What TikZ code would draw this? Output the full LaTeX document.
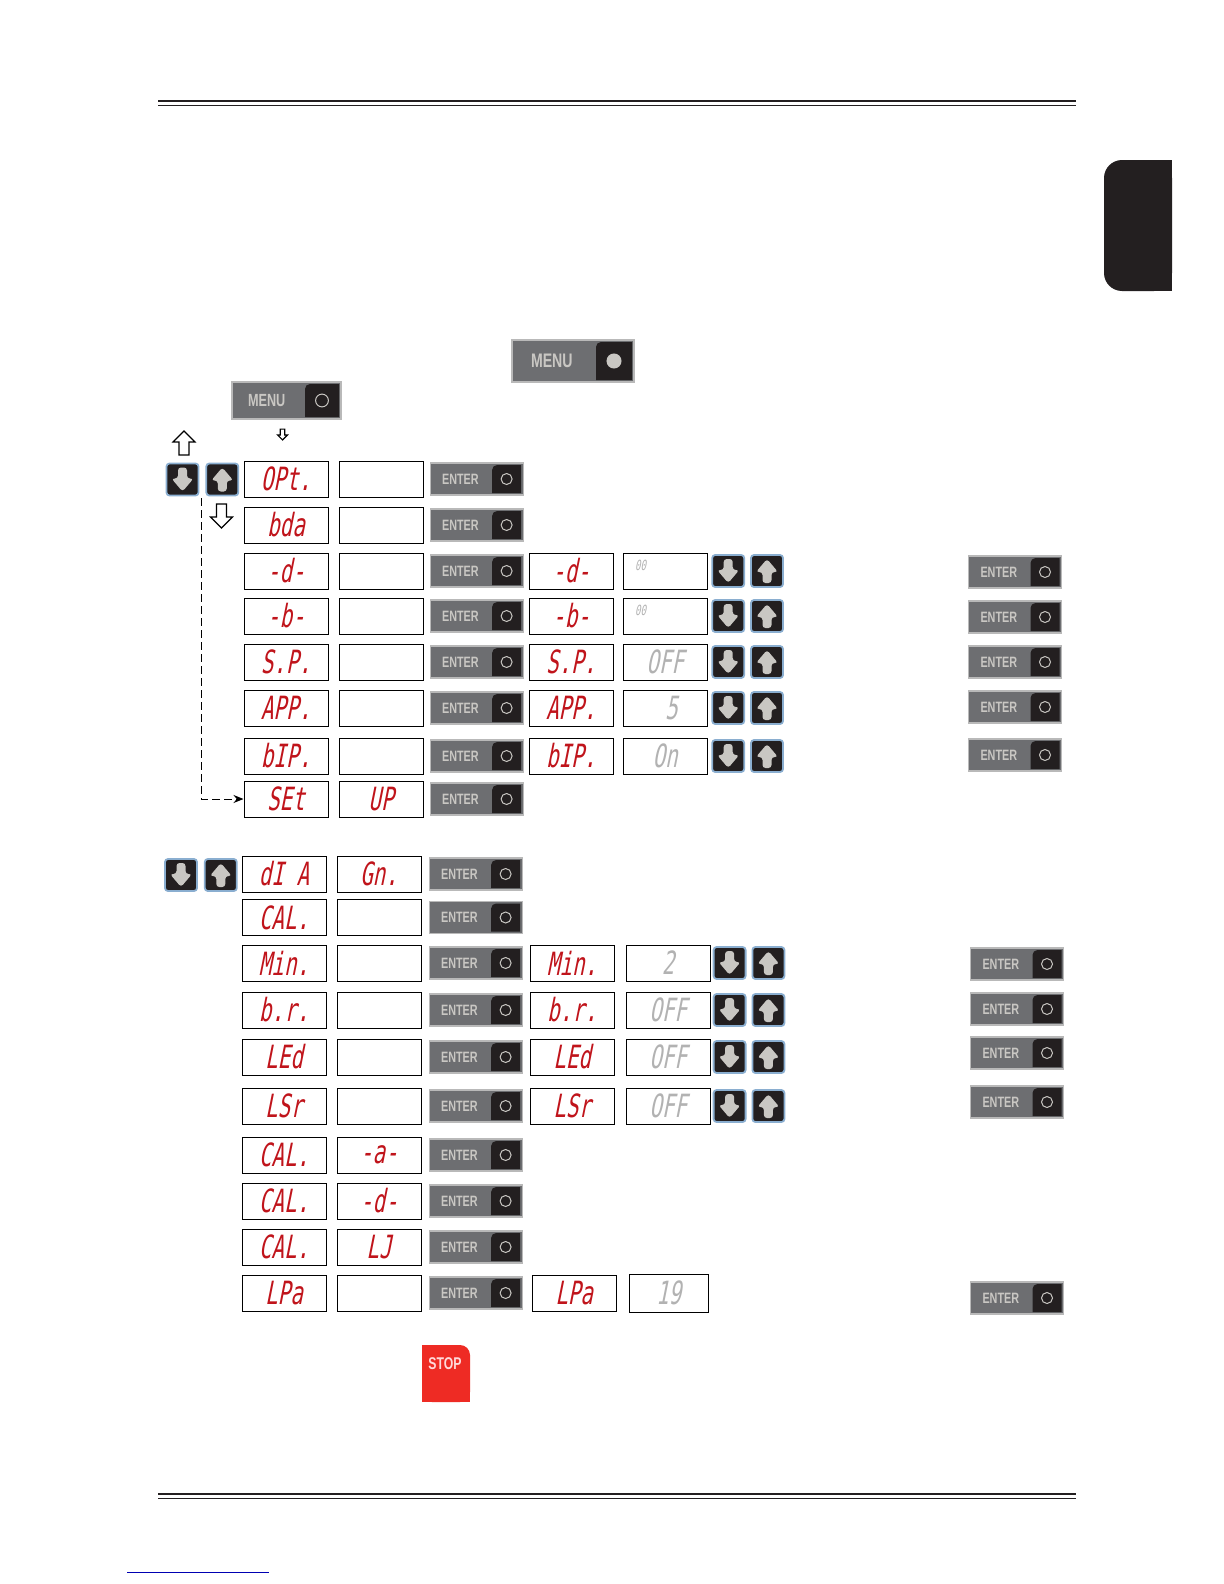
\documentclass[tikz,border=0pt]{standalone}
\usepackage{fontspec}
\usepackage{xcolor}
\usepackage{tikz}
\usetikzlibrary{positioning,arrows.meta}

\newfontfamily\segfont[FakeStretch=0.65,FakeSlant=0.2]{DejaVu Sans Mono}
\newfontfamily\btnfont[FakeStretch=0.72]{Liberation Sans}

\definecolor{segred}{HTML}{C0141B}
\definecolor{btngray}{HTML}{6D6E71}
\definecolor{btndark}{HTML}{231F20}
\definecolor{btntext}{HTML}{C9C7C3}
\definecolor{keyblue}{HTML}{8AAED0}
\definecolor{stopred}{HTML}{EE2B24}

\begin{document}
\begin{tikzpicture}[
    x=0.5pt, y=-0.5pt,
    disp/.style={draw, line width=0.5pt, minimum width=42pt, minimum height=18pt, inner sep=0pt,
        font=\segfont\fontsize{16}{16}\selectfont, text=segred},
    val/.style={disp, text=gray!60},
    tinyval/.style={inner sep=0pt, font=\segfont\fontsize{7}{7}\selectfont, text=gray!60},
    knobdot/.style={},
    knob/.style 2 args={path picture={
        \fill[btndark] ([xshift=-1pt,yshift=1pt]path picture bounding box.south east)
            -- ([xshift=-#1,yshift=1pt]path picture bounding box.south east)
            [rounded corners=2.5pt] -- ([xshift=-#1,yshift=-1pt]path picture bounding box.north east)
            [sharp corners] -- ([xshift=-1pt,yshift=-1pt]path picture bounding box.north east) -- cycle;
        \draw[btntext, line width=0.5pt, knobdot] ([xshift=-#1/2-0.5pt]path picture bounding box.east) circle[radius=#2];}},
    enter/.style={draw=gray!55, line width=0.6pt, fill=btngray, minimum height=16pt, inner xsep=6pt, inner ysep=0pt,
        text width=34.5pt, align=left, font=\btnfont\bfseries\fontsize{7.5}{7.5}\selectfont, text=btntext, knob={15.5pt}{2.75pt}},
    menubtn/.style={draw=gray!55, line width=0.6pt, fill=btngray, inner ysep=0pt, align=left, text=btntext},
    key/.style={draw=keyblue, line width=0.9pt, fill=btndark, minimum size=16pt, inner sep=0pt, rounded corners=1.5pt},
    dnkey/.style={key, path picture={\fill[btntext, shift={(path picture bounding box.center)}]
        (-4.5,-12) -- (4.5,-12) -- (4.5,-1) -- (11,-1) -- (0,12) -- (-11,-1) -- (-4.5,-1) -- cycle;}},
    upkey/.style={key, path picture={\fill[btntext, shift={(path picture bounding box.center)}]
        (-4.5,12) -- (4.5,12) -- (4.5,1) -- (11,1) -- (0,-12) -- (-11,1) -- (-4.5,1) -- cycle;}},
    hollowarrow/.style={draw, fill=white, line width=0.6pt},
    rule/.style={line width=0.8pt, btndark}
]
\fill[white] (0,0) rectangle (1224,1584);
\useasboundingbox (0,0) rectangle (1224,1584);

% page frame
\draw[rule] (158,101) -- (1076,101);
\draw[rule] (158,105.5) -- (1076,105.5);
\draw[rule] (158,1494) -- (1076,1494);
\draw[rule] (158,1498.5) -- (1076,1498.5);
\fill[btndark, rounded corners=9pt] (1104,160) rectangle (1172,291);
\fill[btndark] (1140,160) rectangle (1172,291);
\draw[blue!70!black, line width=0.4pt] (127,1572) -- (269,1572);

% menu keys
\node[menubtn, minimum height=21pt, inner xsep=9.5pt, text width=42pt, font=\btnfont\bfseries\fontsize{9.8}{9.8}\selectfont,
    knob={19pt}{3.5pt}, knobdot/.style={fill=btntext}] (menu1) at (573,361) {MENU};
\node[menubtn, minimum height=18.5pt, inner xsep=8pt, text width=38.5pt, font=\btnfont\bfseries\fontsize{8.8}{8.8}\selectfont,
    knob={18pt}{3.2pt}] (menu2) at (286.5,400.5) {MENU};
\draw[hollowarrow, shift={(282.5,434.5)}, scale=0.45] (0,12) -- (11,1) -- (5,1) -- (5,-12) -- (-5,-12) -- (-5,1) -- (-11,1) -- cycle;
\draw[hollowarrow, shift={(184,443)}] (0,-12) -- (11,-1) -- (5,-1) -- (5,12) -- (-5,12) -- (-5,-1) -- (-11,-1) -- cycle;

% first menu
\node[dnkey] (top-dn) at (182.5,479.5) {};
\node[upkey, right=3pt of top-dn] (top-up) {};
\draw[hollowarrow, shift={(221.5,516)}] (0,12) -- (11,1) -- (5,1) -- (5,-12) -- (-5,-12) -- (-5,1) -- (-11,1) -- cycle;

\foreach \n/\y/\a/\b in {opt/479/OPt./{}, bda/525/bda/{}, d/571/-d-/{}, b/616/-b-/{},
        sp/662/S.P./{}, app/708/APP./{}, bip/756/bIP./{}, set/799/SEt/UP}{
    \node[disp] (\n) at (286,\y) {\a};
    \node[disp, right=5pt of \n] (\n-v) {\b};
    \node[enter, right=3pt of \n-v] (\n-e) {ENTER};
}
\foreach \n/\a/\v/\ey in {d/-d-/{}/572, b/-b-/{}/617, sp/S.P./OFF/662, app/APP./\hphantom{0}5/707, bip/bIP./On/755}{
    \node[disp, right=2.5pt of \n-e] (\n-s) {\a};
    \node[val, right=4.5pt of \n-s] (\n-sv) {\v};
    \node[dnkey, right=1.8pt of \n-sv] (\n-dn) {};
    \node[upkey, right=2.5pt of \n-dn] (\n-up) {};
    \node[enter] (\n-ok) at (1015,\ey) {ENTER};
}
\node[tinyval, anchor=north west] (d-tiny) at ([xshift=6pt,yshift=-3.5pt]d-sv.north west) {00};
\node[tinyval, anchor=north west] (b-tiny) at ([xshift=6pt,yshift=-3.5pt]b-sv.north west) {00};

\coordinate (dashtop) at (201,498);
\draw[dash pattern=on 4pt off 2pt, line width=0.5pt, -{Stealth[length=5pt,width=4pt]}] (dashtop) |- (set.west);

% second menu
\node[dnkey] (low-dn) at (181,875) {};
\node[upkey, right=3pt of low-dn] (low-up) {};

\foreach \n/\y/\a/\b in {dia/874/dI A/Gn., cal/917.5/CAL./{}, min/963/Min./{}, br/1010/b.r./{},
        led/1057/LEd/{}, lsr/1106/LSr/{}, cala/1155/CAL./-a-, cald/1201/CAL./-d-, calw/1247/CAL./LJ, lpa/1293/LPa/{}}{
    \node[disp] (\n) at (284,\y) {\a};
    \node[disp, right=5pt of \n] (\n-v) {\b};
    \node[enter, right=3.5pt of \n-v] (\n-e) {ENTER};
}
\foreach \n/\a/\v/\ey in {min/Min./2/964, br/b.r./OFF/1009, led/LEd/OFF/1053, lsr/LSr/OFF/1102}{
    \node[disp, right=3.5pt of \n-e] (\n-s) {\a};
    \node[val, right=5.5pt of \n-s] (\n-sv) {\v};
    \node[dnkey, right=1pt of \n-sv] (\n-dn) {};
    \node[upkey, right=2.5pt of \n-dn] (\n-up) {};
    \node[enter] (\n-ok) at (1017,\ey) {ENTER};
}
\node[disp, right=4.5pt of lpa-e] (lpa-s) {LPa};
\node[val, minimum width=39.5pt, minimum height=19pt, right=6pt of lpa-s] (lpa-sv) {19};
\node[enter] (lpa-ok) at (1017,1298) {ENTER};

% stop key
\fill[stopred, rounded corners=5pt] (422,1345) rectangle (470,1402);
\fill[stopred] (422,1345) rectangle (446,1402);
\fill[stopred] (422,1374) rectangle (470,1402);
\node[inner sep=0pt, font=\btnfont\bfseries\fontsize{8.5}{8.5}\selectfont, text=red!15] (stop) at (445,1364) {STOP};
\end{tikzpicture}
\end{document}
